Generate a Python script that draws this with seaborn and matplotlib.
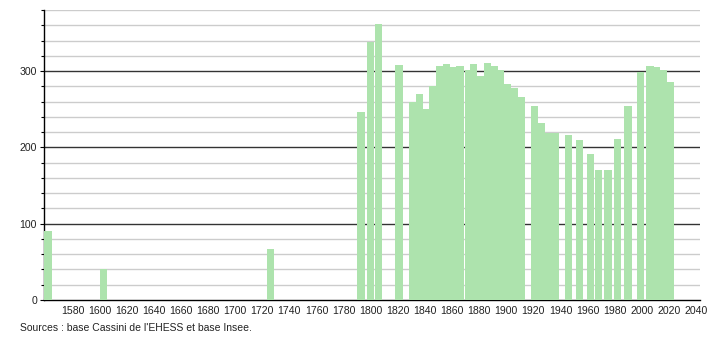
import matplotlib
matplotlib.use("Agg")
import matplotlib.pyplot as plt
import seaborn as sns
import pandas as pd
from matplotlib.ticker import MultipleLocator

years = [1562, 1603, 1726, 1793, 1800, 1806, 1821, 1831, 1836, 1841, 1846, 1851,
         1856, 1861, 1866, 1872, 1876, 1881, 1886, 1891, 1896, 1901, 1906, 1911,
         1921, 1926, 1931, 1936, 1946, 1954, 1962, 1968, 1975, 1982, 1990, 1999,
         2006, 2011, 2016, 2021]
population = [90, 40, 67, 246, 338, 362, 308, 259, 270, 250, 280, 307,
              309, 305, 307, 302, 309, 293, 310, 306, 301, 283, 278, 266,
              254, 232, 219, 219, 216, 210, 191, 170, 170, 211, 254, 299,
              306, 305, 302, 286]
xticks = list(range(1580, 2041, 20))
yticks_major = [0, 100, 200, 300]
source_text = "Sources : base Cassini de l'EHESS et base Insee."

df = pd.DataFrame({"year": years, "pop": population})

sns.set_style("white")
plt.rcParams['font.family'] = ['Liberation Sans', 'DejaVu Sans']

fig = plt.figure(figsize=(7.1, 3.4), dpi=100)
ax = fig.add_axes([44 / 710, 40 / 340, 656 / 710, 290 / 340])

sns.barplot(data=df, x="year", y="pop", native_scale=True, width=1.36,
            color="#ade3ad", saturation=1, errorbar=None,
            edgecolor="none", linewidth=0, ax=ax, zorder=3)

ax.set_xlim(1559, 2043)
ax.set_ylim(0, 380)
ax.set_xticks(xticks)
ax.set_xticklabels([str(t) for t in xticks])
ax.set_yticks(yticks_major)
ax.yaxis.set_minor_locator(MultipleLocator(20))

ax.grid(False)
for v in range(20, 381, 20):
    if v % 100 == 0:
        ax.axhline(v, color="#333333", lw=1.0, zorder=1)
    else:
        ax.axhline(v, color="#cccccc", lw=1.0, zorder=1)

for s in ["top", "right"]:
    ax.spines[s].set_visible(False)
ax.spines["left"].set_color("black")
ax.spines["bottom"].set_color("black")
ax.spines["left"].set_linewidth(1.0)
ax.spines["bottom"].set_linewidth(1.0)

ax.tick_params(axis="x", which="both", length=0, labelsize=7.6, pad=4, colors="#222222")
ax.tick_params(axis="y", which="major", length=3, width=0.8, labelsize=7.6, pad=2, color="black", labelcolor="#222222", left=True)
ax.tick_params(axis="y", which="minor", length=2, width=0.8, color="black", left=True)
ax.set_xlabel("")
ax.set_ylabel("")

fig.text(20 / 710, 1 - 328 / 340, source_text, fontsize=7.5, color="#222222", va="center", ha="left")

fig.savefig("out.png", dpi=100)
